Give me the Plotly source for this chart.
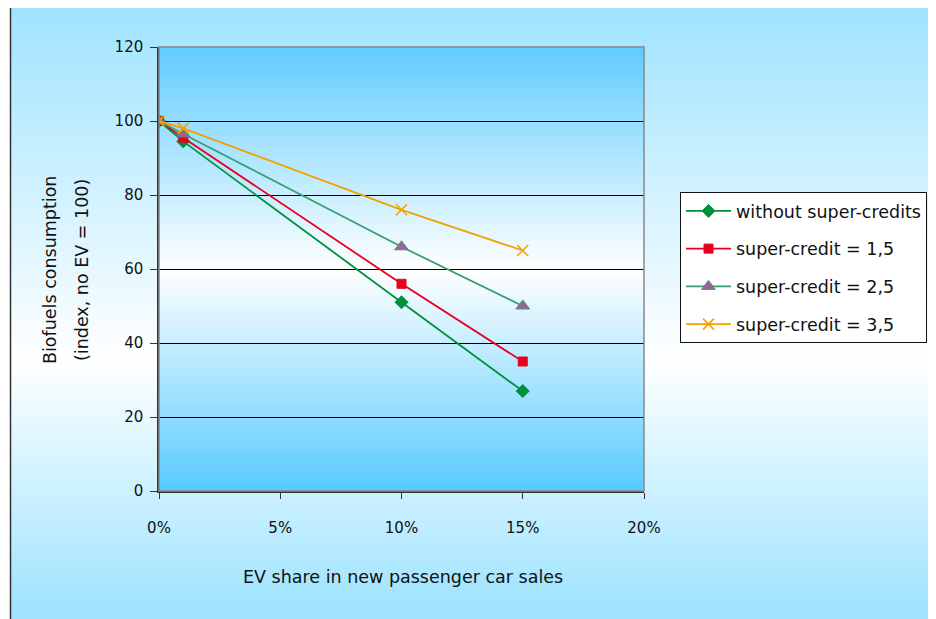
import plotly.graph_objects as go

# ---------------- data ----------------
ev_share = [0.0, 0.01, 0.10, 0.15]
without_sc = [100, 94.5, 51, 27]
sc_1_5 = [100, 95.5, 56, 35]
sc_2_5 = [100, 96.5, 66, 50]
sc_3_5 = [100, 98, 76, 65]
series_names = ["without super-credits", "super-credit = 1,5",
                "super-credit = 2,5", "super-credit = 3,5"]
y_ticks = [0, 20, 40, 60, 80, 100, 120]
x_ticks = [0, 0.05, 0.10, 0.15, 0.20]

# page body has an 8px margin; figure sized so it ends at the window edge
OFF = 8
PAGE_W, PAGE_H = 936, 619
W, H = PAGE_W - OFF, PAGE_H - OFF
L, R, T, B = 159, 644, 47, 491   # plot area in page pixels
FONT = "DejaVu Sans"
TXT = 17.5


def px2x(px):
    return (px - L) / (R - L)


def py2y(py):
    return (B - py) / (B - T)


def hex2rgb(h):
    h = h.lstrip('#')
    return tuple(int(h[i:i + 2], 16) for i in (0, 2, 4))


def mix(c1, c2, t):
    a, b = hex2rgb(c1), hex2rgb(c2)
    return 'rgb(%d,%d,%d)' % tuple(round(a[i] + (b[i] - a[i]) * t) for i in range(3))


def grad_color(py, stops):
    for (p0, c0), (p1, c1) in zip(stops, stops[1:]):
        if p0 <= py <= p1:
            return mix(c0, c1, (py - p0) / (p1 - p0) if p1 > p0 else 0)
    return mix(stops[-1][1], stops[-1][1], 0)


shapes = []
# outer frame gradient
outer_stops = [(6, '#9fe3ff'), (360, '#ffffff'), (605, '#a0e4ff'), (640, '#a0e4ff')]
step = 3
py = 6
while py < 625:
    c = grad_color(py + step / 2, outer_stops)
    shapes.append(dict(type='rect', xref='paper', yref='paper', layer='below',
                       x0=px2x(10), x1=px2x(945), y0=py2y(py), y1=py2y(py + step + 0.6),
                       fillcolor=c, line=dict(width=0)))
    py += step
shapes.append(dict(type='rect', xref='paper', yref='paper', layer='below',
                   x0=px2x(10.5), x1=px2x(960), y0=py2y(6.5), y1=py2y(640),
                   fillcolor='rgba(0,0,0,0)', line=dict(color='#333333', width=1.5)))
# plot-area gradient
inner_stops = [(T, '#60ccff'), ((T + B) / 2, '#ffffff'), (B, '#58caff')]
py = T
while py < B:
    c = grad_color(py + step / 2, inner_stops)
    shapes.append(dict(type='rect', xref='paper', yref='paper', layer='below',
                       x0=0, x1=1, y0=py2y(py), y1=py2y(min(py + step + 0.6, B)),
                       fillcolor=c, line=dict(width=0)))
    py += step
# plot-area border (gray top/right)
shapes.append(dict(type='rect', xref='paper', yref='paper', layer='above',
                   x0=0, x1=1, y0=0, y1=1, fillcolor='rgba(0,0,0,0)',
                   line=dict(color='#888888', width=1.5)))

fig = go.Figure()
styles = [
    dict(color='#00913a', symbol='diamond', size=10, mcolor='#00913a', mline='#00913a'),
    dict(color='#e8001c', symbol='square', size=9, mcolor='#e8001c', mline='#e8001c'),
    dict(color='#3a9e6e', symbol='triangle-up', size=12, mcolor='#a0609a', mline='#3a9e6e'),
    dict(color='#f2a200', symbol='x-thin-open', size=11, mcolor='#f2a200', mline='#f2a200'),
]
for name, vals, st in zip(series_names, [without_sc, sc_1_5, sc_2_5, sc_3_5], styles):
    fig.add_trace(go.Scatter(
        x=ev_share, y=vals, name=name, mode='lines+markers', legendgroup=name,
        line=dict(color=st['color'], width=1.8),
        marker=dict(symbol=st['symbol'], size=st['size'], color=st['mcolor'],
                    line=dict(color=st['mline'], width=1.6 if 'x' in st['symbol'] else 1)),
    ))

fig.update_layout(
    width=W, height=H,
    margin=dict(l=L - OFF, r=PAGE_W - R, t=T - OFF, b=PAGE_H - B, pad=0,
                autoexpand=False),
    paper_bgcolor='white', plot_bgcolor='rgba(0,0,0,0)',
    font=dict(family=FONT, size=15, color='#111111'),
    shapes=shapes,
    showlegend=True,
    legend=dict(x=px2x(680), y=py2y(192), xanchor='left', yanchor='top',
                bgcolor='white', bordercolor='#111111', borderwidth=1,
                font=dict(family=FONT, size=TXT, color='#111111'),
                tracegroupgap=12, itemwidth=45),
    xaxis=dict(range=[0, 0.20], tickvals=x_ticks, tickformat='.0%',
               showgrid=False, zeroline=False, showline=True, linecolor='#333333',
               linewidth=1.5, ticks='outside', ticklen=6, tickcolor='#333333',
               ticklabelstandoff=16, fixedrange=True, automargin=False),
    yaxis=dict(range=[0, 120], tickvals=y_ticks, showgrid=True, gridcolor='#000000',
               gridwidth=1, zeroline=False, showline=True, linecolor='#333333',
               linewidth=1.5, ticks='outside', ticklen=7, tickcolor='#333333',
               ticklabelstandoff=4, fixedrange=True, automargin=False),
    annotations=[
        dict(text='EV share in new passenger car sales', xref='paper', yref='paper',
             x=px2x(403), y=py2y(577), showarrow=False, xanchor='center', yanchor='middle',
             font=dict(family=FONT, size=TXT, color='#111111')),
        dict(text='Biofuels consumption', xref='paper', yref='paper',
             x=px2x(50), y=py2y(270), showarrow=False, textangle=-90,
             xanchor='center', yanchor='middle',
             font=dict(family=FONT, size=TXT, color='#111111')),
        dict(text='(index, no EV = 100)', xref='paper', yref='paper',
             x=px2x(82), y=py2y(270), showarrow=False, textangle=-90,
             xanchor='center', yanchor='middle',
             font=dict(family=FONT, size=TXT, color='#111111')),
    ],
)

fig.write_html("out.html")
